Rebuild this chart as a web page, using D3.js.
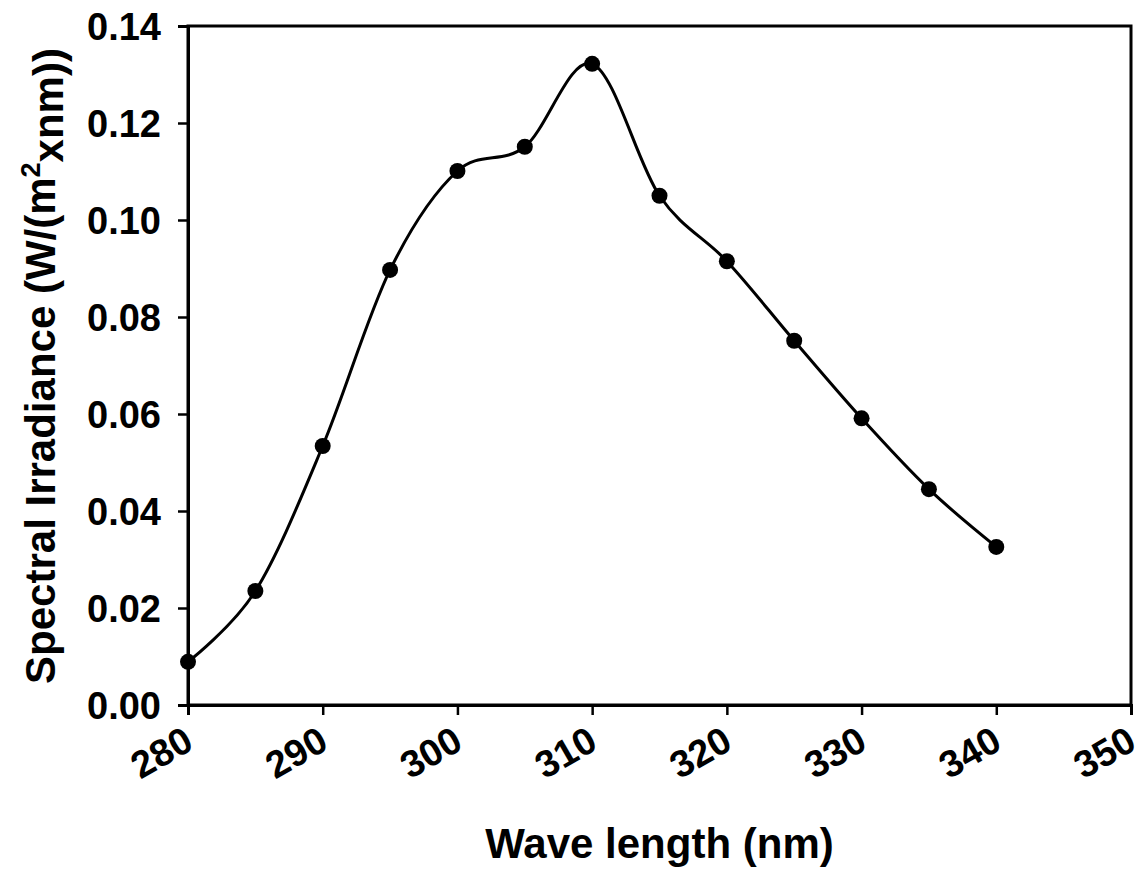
<!DOCTYPE html>
<html><head><meta charset="utf-8">
<script src="https://cdn.jsdelivr.net/npm/d3@7"></script>
<style>body{margin:0;background:#fff}svg text{font-family:"Liberation Sans",Arial,sans-serif;font-weight:bold;fill:#000}</style>
</head><body>
<script>
const wavelengths = [280,285,290,295,300,305,310,315,320,325,330,335,340];
const irradiance = [0.0089,0.0235,0.0534,0.0897,0.1101,0.1151,0.1322,0.1050,0.0915,0.0751,0.0591,0.0445,0.0326];
const xTicks = [280,290,300,310,320,330,340,350];
const yTicks = [0,0.02,0.04,0.06,0.08,0.10,0.12,0.14];
const xTitle = "Wave length (nm)";

const W=1146,H=873;
const svg=d3.select("body").append("svg").attr("width",W).attr("height",H);
const L=188,R=1131,T=26,B=705;
const x=d3.scaleLinear().domain([280,350]).range([L,R]);
const y=d3.scaleLinear().domain([0,0.14]).range([B,T]);

// frame
svg.append("rect").attr("x",L).attr("y",T).attr("width",R-L).attr("height",B-T)
  .attr("fill","none").attr("stroke","#000").attr("stroke-width",3);

// y axis
const ya=svg.append("g").attr("transform",`translate(${L},0)`)
  .call(d3.axisLeft(y).tickValues(yTicks).tickFormat(d3.format(".2f")).tickSize(10).tickPadding(17));
ya.select(".domain").attr("stroke-width",3);
ya.selectAll(".tick line").attr("stroke-width",2.5);
ya.selectAll(".tick text").style("font-size","38px").attr("dy","0.36em");

// x axis
const xa=svg.append("g").attr("transform",`translate(0,${B})`)
  .call(d3.axisBottom(x).tickValues(xTicks).tickFormat(d3.format("d")).tickSize(10));
xa.select(".domain").attr("stroke-width",3);
xa.selectAll(".tick line").attr("stroke-width",2.5);
xa.selectAll(".tick text").style("font-size","38px")
  .attr("text-anchor","end").attr("dy",null).attr("y",null)
  .attr("transform","translate(7,43) rotate(-30)");

// line
const data=wavelengths.map((w,i)=>[w,irradiance[i]]);
svg.append("path").datum(data)
  .attr("d",d3.line().x(d=>x(d[0])).y(d=>y(d[1])).curve(d3.curveCardinal.tension(0)))
  .attr("fill","none").attr("stroke","#000").attr("stroke-width",3);
svg.selectAll("circle.pt").data(data).join("circle").attr("class","pt")
  .attr("cx",d=>x(d[0])).attr("cy",d=>y(d[1])).attr("r",8).attr("fill","#000");

// titles
svg.append("text").attr("x",(L+R)/2).attr("y",858).attr("text-anchor","middle")
  .style("font-size","42px").text(xTitle);
const yt=svg.append("text").attr("transform","translate(55,366) rotate(-90)")
  .attr("text-anchor","middle").style("font-size","42px");
yt.append("tspan").text("Spectral Irradiance (W/(m");
yt.append("tspan").attr("dy","-0.55em").style("font-size","27px").text("2");
yt.append("tspan").attr("dy","0.55em").text("xnm))");
</script>
</body></html>
